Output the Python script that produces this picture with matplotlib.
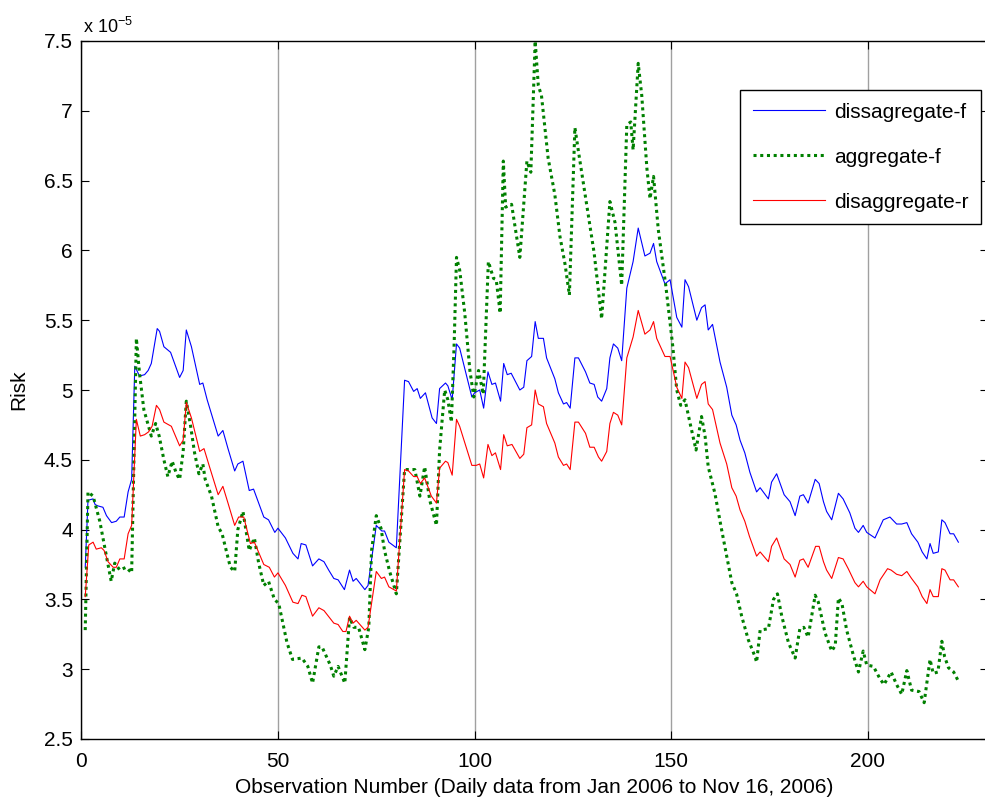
import matplotlib
matplotlib.use("Agg")
import matplotlib.pyplot as plt
from matplotlib.ticker import FixedLocator, FuncFormatter

plt.rcParams['font.family'] = ['Liberation Sans', 'DejaVu Sans']
plt.rcParams['mathtext.fontset'] = 'custom'
plt.rcParams['mathtext.rm'] = 'Liberation Sans'
plt.rcParams['mathtext.default'] = 'regular'

# values in units of 1e-5
blue_x = [1, 1.7, 3.0, 3.5, 4.2, 5.5, 6.4, 7.7, 8.9, 9.8, 10.9, 11.9, 12.8, 13.6, 14.8, 16.1, 17.0, 17.8,
          19.3, 19.9, 21.0, 22.7, 25.0, 25.9, 26.7, 28.0, 30.1, 30.9, 32.0, 34.8, 36.0, 37.3, 39.0, 39.8,
          41.1, 42.7, 43.8, 46.4, 47.6, 49.2, 50.0, 51.9, 53.8, 55.1, 55.9, 57.1, 58.8, 60.4, 61.7, 62.9,
          64.2, 65.3, 66.9, 68.2, 69.1, 69.9, 72.1, 72.9, 75.0, 76.4, 77.1, 78.2, 80.1, 82.2, 83.2, 84.5,
          85.4, 86.2, 87.5, 89.2, 90.3, 91.1, 92.6, 93.2, 94.3, 95.4, 96.2, 99.3, 100.0, 101.3, 102.3,
          103.4, 104.4, 105.3, 106.6, 107.4, 108.3, 109.3, 111.5, 112.5, 113.3, 114.5, 115.4, 116.2,
          117.5, 118.3, 120.4, 121.3, 122.6, 123.4, 124.3, 125.5, 126.4, 128.2, 129.3, 130.4, 131.3,
          132.3, 133.6, 134.4, 135.3, 136.4, 137.4, 138.7, 140.3, 141.6, 143.3, 144.6, 145.5, 146.3,
          148.4, 149.7, 151.4, 152.7, 153.5, 154.4, 156.5, 157.7, 158.6, 159.4, 160.5, 162.4, 164.1,
          165.4, 166.5, 167.5, 168.7, 170.0, 171.7, 172.6, 174.7, 175.5, 176.8, 178.7, 180.2, 181.5,
          182.7, 183.6, 184.8, 186.6, 187.6, 188.7, 189.5, 190.8, 192.5, 193.7, 195.4, 196.7, 197.6,
          198.8, 199.7, 201.8, 203.9, 205.6, 207.3, 208.6, 209.9, 211.1, 212.7, 213.8, 215.0, 215.8,
          216.6, 217.9, 218.8, 219.6, 220.9, 221.8, 223.0]
blue_y = [3.73, 4.21, 4.22, 4.18, 4.17, 4.16, 4.10, 4.05, 4.06, 4.09, 4.09, 4.27, 4.36, 5.17, 5.10, 5.11, 5.14, 5.19,
          5.44, 5.42, 5.31, 5.27, 5.09, 5.14, 5.43, 5.31, 5.04, 5.05, 4.93, 4.67, 4.71, 4.58, 4.42, 4.47,
          4.49, 4.28, 4.29, 4.09, 4.07, 3.98, 4.01, 3.94, 3.83, 3.79, 3.90, 3.89, 3.74, 3.79, 3.77, 3.71,
          3.65, 3.64, 3.57, 3.71, 3.63, 3.65, 3.57, 3.60, 4.03, 3.99, 3.99, 3.91, 3.87, 5.07, 5.06, 4.99,
          5.01, 4.94, 4.98, 4.80, 4.76, 5.01, 5.05, 5.03, 4.93, 5.33, 5.30, 4.95, 4.98, 5.00, 4.87,
          5.13, 5.04, 5.05, 4.92, 5.19, 5.11, 5.12, 5.00, 5.02, 5.21, 5.24, 5.49, 5.37,
          5.37, 5.23, 5.08, 4.98, 4.90, 4.91, 4.87, 5.23, 5.23, 5.13, 5.05, 5.04, 4.95,
          4.92, 5.01, 5.23, 5.33, 5.30, 5.21, 5.73, 5.92, 6.16, 5.96, 5.98, 6.05, 5.92,
          5.76, 5.79, 5.52, 5.45, 5.79, 5.74, 5.50, 5.59, 5.61, 5.43, 5.47, 5.20, 5.02,
          4.82, 4.75, 4.64, 4.55, 4.41, 4.27, 4.30, 4.22, 4.34, 4.40, 4.25, 4.20, 4.10,
          4.24, 4.25, 4.19, 4.36, 4.33, 4.20, 4.13, 4.07, 4.26, 4.22, 4.12, 4.01, 3.98,
          4.03, 3.98, 3.94, 4.07, 4.09, 4.04, 4.04, 4.05, 3.97, 3.91, 3.84, 3.79, 3.90,
          3.83, 3.84, 4.07, 4.05, 3.97, 3.97, 3.91]

green_x = [1, 1.7, 3.0, 4.7, 6.4, 7.6, 8.5, 9.8, 11.4, 12.8, 14.0, 14.8, 15.9, 17.0, 17.8, 18.9, 19.8, 21.0,
           22.0, 23.1, 24.2, 25.0, 25.9, 26.7, 27.8, 28.8, 29.9, 30.9, 31.5, 33.1, 34.8, 35.8, 37.1, 37.9,
           39.0, 39.8, 41.1, 42.7, 44.0, 45.1, 46.4, 47.6, 49.1, 50.2, 52.3, 53.7, 56.1, 57.6, 58.8, 60.4,
           61.2, 63.3, 64.2, 65.3, 67.0, 68.2, 69.3, 70.5, 72.1, 73.1, 73.8, 75.0, 76.2, 77.1, 78.4, 80.1,
           82.2, 83.5, 84.8, 86.1, 87.3, 88.6, 90.3, 91.1, 92.4, 93.2, 94.1, 94.8, 95.4, 96.2, 97.5, 98.8,
           99.8, 101.0, 102.2, 103.5, 104.8, 105.5, 106.5, 107.3, 107.9, 109.4, 111.5, 113.3, 114.3,
           115.4, 116.2, 117.0, 118.7, 120.4, 121.7, 123.0, 124.1, 125.5, 126.4, 128.1, 130.4, 132.3,
           134.4, 135.7, 137.4, 138.7, 139.7, 140.3, 141.6, 142.5, 143.8, 144.6, 145.5, 146.7, 148.6,
           150.4, 151.4, 152.4, 153.5, 154.8, 156.3, 157.1, 157.7, 158.6, 159.4, 161.1, 162.8, 164.1,
           165.4, 166.6, 167.9, 169.6, 171.3, 171.7, 172.6, 174.7, 176.0, 177.0, 178.1, 179.8, 181.5,
           182.7, 183.7, 184.8, 186.6, 187.4, 189.1, 190.8, 191.7, 192.5, 193.4, 194.6, 196.3, 197.6,
           198.8, 199.7, 201.4, 203.1, 204.1, 205.9, 207.3, 208.6, 209.9, 211.1, 213.0, 214.3, 215.8,
           216.6, 217.8, 218.8, 219.5, 220.5, 221.8, 222.9]
green_y = [3.28, 4.27, 4.24, 4.06, 3.81, 3.63, 3.76, 3.71, 3.73, 3.69, 5.37, 5.12, 4.86, 4.75, 4.67, 4.76, 4.67, 4.50,
           4.38, 4.49, 4.40, 4.36, 4.56, 4.92, 4.74, 4.55, 4.40, 4.47, 4.36, 4.24, 4.02, 3.97, 3.82, 3.73,
           3.70, 4.00, 4.13, 3.85, 3.94, 3.76, 3.60, 3.63, 3.50, 3.47, 3.19, 3.07, 3.08, 3.02, 2.90, 3.16,
           3.16, 3.03, 2.95, 3.02, 2.90, 3.37, 3.30, 3.30, 3.14, 3.30, 3.85, 4.10, 4.01, 3.85, 3.70, 3.54,
           4.43, 4.43, 4.43, 4.24, 4.45, 4.21, 4.03, 4.57, 5.00, 4.93, 4.77, 5.33, 5.95, 5.86, 5.55, 5.14,
           4.95, 5.14, 4.97, 5.92, 5.80, 5.79, 5.55, 6.64, 6.31, 6.33, 5.95, 6.64, 6.56,
           7.50, 7.18, 7.11, 6.66, 6.40, 6.10, 5.90, 5.68, 6.88, 6.71, 6.40, 5.98, 5.51,
           6.35, 6.20, 5.75, 6.90, 6.92, 6.72, 7.34, 7.11, 6.59, 6.37, 6.53, 6.15, 5.75,
           5.31, 5.00, 4.89, 4.93, 4.76, 4.57, 4.71, 4.81, 4.67, 4.45, 4.26, 4.00, 3.81,
           3.62, 3.54, 3.38, 3.21, 3.09, 3.05, 3.28, 3.29, 3.50, 3.54, 3.38, 3.19, 3.08,
           3.29, 3.30, 3.23, 3.53, 3.48, 3.26, 3.13, 3.17, 3.51, 3.47, 3.28, 3.10, 2.98,
           3.13, 3.03, 3.02, 2.93, 2.89, 2.98, 2.89, 2.82, 2.99, 2.85, 2.84, 2.76, 3.07,
           2.97, 2.98, 3.20, 3.09, 3.01, 2.98, 2.92]

red_x = [1, 1.9, 3.0, 3.8, 5.1, 5.8, 6.8, 8.1, 8.9, 9.8, 10.9, 11.9, 12.8, 14.0, 15.0, 16.1, 17.1, 18.0, 19.1,
         19.9, 21.0, 22.9, 25.0, 25.9, 26.7, 28.0, 30.1, 31.2, 32.6, 34.8, 36.0, 37.3, 39.0, 40.0, 41.3,
         43.0, 44.0, 46.4, 47.8, 49.1, 50.0, 51.9, 53.8, 55.1, 56.1, 57.1, 58.8, 60.4, 61.7, 64.2, 65.3,
         66.5, 67.3, 68.2, 69.1, 69.9, 72.1, 72.9, 75.0, 76.3, 77.1, 78.2, 80.1, 82.2, 83.2, 84.5, 85.4,
         86.2, 87.3, 89.0, 90.3, 91.1, 92.6, 93.2, 94.3, 95.4, 96.2, 99.3, 100.4, 101.3, 102.3, 103.4,
         104.4, 105.3, 106.6, 107.4, 108.3, 109.5, 111.5, 112.5, 113.3, 114.5, 115.4, 116.2, 117.5,
         118.3, 120.4, 121.3, 122.6, 123.4, 124.3, 125.5, 126.4, 128.2, 129.3, 130.4, 131.5, 132.3,
         133.6, 134.4, 135.3, 136.4, 137.4, 138.7, 140.3, 141.6, 143.3, 144.6, 145.5, 146.3, 148.4,
         149.7, 151.4, 152.7, 153.5, 154.4, 156.5, 157.7, 158.6, 159.4, 160.5, 162.4, 164.1, 165.4,
         166.5, 167.5, 168.7, 169.9, 171.7, 172.6, 174.7, 175.5, 176.8, 178.7, 180.2, 181.5, 182.7,
         183.6, 184.8, 186.7, 187.6, 188.7, 189.5, 190.8, 192.5, 193.7, 195.0, 196.7, 197.6, 198.8,
         199.7, 201.8, 203.1, 205.0, 205.9, 207.3, 208.6, 209.9, 211.1, 212.7, 213.8, 215.0, 215.8,
         216.6, 217.9, 218.8, 219.6, 220.9, 221.8, 223.0]
red_y = [3.52, 3.89, 3.91, 3.86, 3.87, 3.85, 3.77, 3.73, 3.73, 3.79, 3.79, 3.97, 4.03, 4.79, 4.67, 4.68, 4.70, 4.74, 4.89,
         4.86, 4.77, 4.74, 4.60, 4.64, 4.91, 4.80, 4.56, 4.58, 4.45, 4.25, 4.31, 4.19, 4.03, 4.09, 4.09,
         3.90, 3.91, 3.75, 3.73, 3.66, 3.69, 3.60, 3.48, 3.47, 3.53, 3.52, 3.38, 3.44, 3.42, 3.33, 3.32,
         3.27, 3.27, 3.38, 3.33, 3.35, 3.28, 3.30, 3.70, 3.65, 3.66, 3.59, 3.56, 4.43, 4.42, 4.38, 4.38,
         4.33, 4.37, 4.24, 4.19, 4.44, 4.49, 4.48, 4.39, 4.79, 4.74, 4.46, 4.46, 4.47, 4.37, 4.61,
         4.53, 4.55, 4.43, 4.68, 4.60, 4.61, 4.51, 4.54, 4.73, 4.75, 5.00, 4.90, 4.88,
         4.76, 4.62, 4.52, 4.46, 4.47, 4.43, 4.77, 4.77, 4.69, 4.59, 4.59, 4.52, 4.49,
         4.56, 4.76, 4.84, 4.82, 4.75, 5.23, 5.38, 5.57, 5.40, 5.43, 5.49, 5.37, 5.24,
         5.24, 5.02, 4.94, 5.20, 5.16, 4.94, 5.04, 5.06, 4.90, 4.86, 4.62, 4.47, 4.30,
         4.24, 4.14, 4.06, 3.95, 3.81, 3.84, 3.77, 3.88, 3.94, 3.79, 3.75, 3.66, 3.78,
         3.79, 3.73, 3.88, 3.88, 3.77, 3.71, 3.65, 3.80, 3.79, 3.72, 3.62, 3.59, 3.63,
         3.59, 3.54, 3.64, 3.72, 3.71, 3.68, 3.67, 3.70, 3.65, 3.59, 3.52, 3.47, 3.57,
         3.52, 3.52, 3.72, 3.71, 3.64, 3.64, 3.59]

labels = ['dissagregate-f', 'aggregate-f', 'disaggregate-r']
x_ticks = [0, 50, 100, 150, 200]
y_ticks = [2.5, 3, 3.5, 4, 4.5, 5, 5.5, 6, 6.5, 7, 7.5]

W, H = 985, 801
X0, XR = 81.3, 988.0
fig = plt.figure(figsize=(W / 100, H / 100), dpi=100)
ax = fig.add_axes([X0 / W, (H - 739) / H, (XR - X0) / W, (739 - 41) / H])

ax.plot(blue_x, blue_y, color='#0000FF', lw=0.8, label=labels[0])
ax.plot(green_x, green_y, color='#008000', lw=2.2, linestyle=(0, (1, 1.2)), label=labels[1])
ax.plot(red_x, red_y, color='#FF0000', lw=0.8, label=labels[2])

ax.set_xlim(0, (XR - X0) / 3.933)
ax.set_ylim(2.5, 7.5)
ax.xaxis.set_major_locator(FixedLocator(x_ticks))
ax.yaxis.set_major_locator(FixedLocator(y_ticks))
ax.yaxis.set_major_formatter(FuncFormatter(lambda v, p: '%g' % v))
ax.xaxis.set_major_formatter(FuncFormatter(lambda v, p: '%g' % v))
ax.tick_params(direction='in', length=6, width=0.8, top=True, right=True,
               labelsize=15, colors='black')
ax.tick_params(axis='x', pad=9.5)
ax.tick_params(axis='y', pad=6)
ax.xaxis.grid(True, color='#a0a0a0', lw=1.0, ls='-')
ax.set_axisbelow(True)
for s in ax.spines.values():
    s.set_linewidth(1.0)

ax.set_xlabel('Observation Number (Daily data from Jan 2006 to Nov 16, 2006)', fontsize=15, labelpad=5)
ax.set_ylabel('Risk', fontsize=15, labelpad=11)

fig.text(83 / W, 1 - 33 / H, r'x 10$^{-5}$', fontsize=13, ha='left', va='baseline')

leg = ax.legend(loc='upper left', bbox_to_anchor=(740 / W, 1 - 90 / H),
                bbox_transform=fig.transFigure, borderaxespad=0, fontsize=15,
                fancybox=False, framealpha=1, edgecolor='black', handlelength=3.5,
                handletextpad=0.4, labelspacing=1.25, borderpad=0.6)
leg.get_frame().set_linewidth(1.0)

fig.savefig('out.png', dpi=100)
